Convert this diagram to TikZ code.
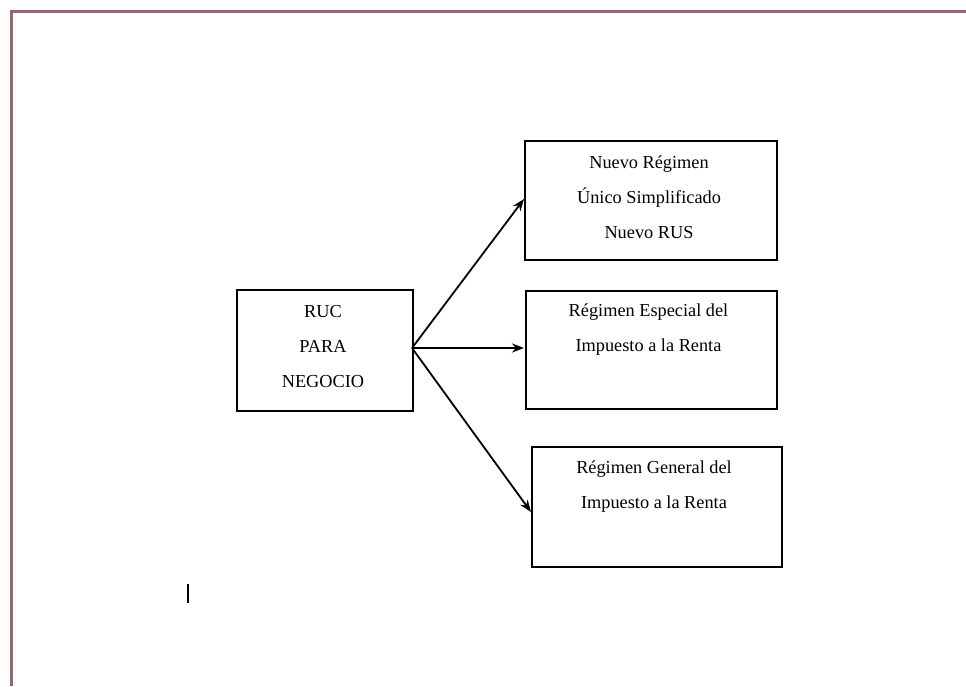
\documentclass[tikz,border=0pt]{standalone}
\usepackage{fontspec}
\setmainfont{Liberation Serif}
\usetikzlibrary{arrows.meta}
\definecolor{frame}{RGB}{146,108,108}
\begin{document}
\begin{tikzpicture}[x=1pt,y=-1pt,
  boxstyle/.style={draw=black,line width=1.8pt,inner sep=0pt,anchor=north west},
  txt/.style={align=center,inner sep=0pt,font=\fontsize{18.3}{35}\selectfont},
  conn/.style={line width=1.8pt,-{Stealth[length=12pt,width=9pt]}}]
\useasboundingbox (0,0) rectangle (966,686);
\draw[frame,line width=3.2pt] (11.5,686) -- (11.5,11.5) -- (966,11.5);
% boxes
\node[boxstyle,minimum width=176pt,minimum height=121pt] (ruc) at (236,289) {};
\node[boxstyle,minimum width=252pt,minimum height=119pt] (b1) at (524,140) {};
\node[boxstyle,minimum width=251pt,minimum height=118pt] (b2) at (525,290) {};
\node[boxstyle,minimum width=250pt,minimum height=120pt] (b3) at (531,446) {};
% texts
\node[txt] (truc) at (323,347) {RUC\\PARA\\NEGOCIO};
\node[txt] (tb1) at (649,197) {Nuevo Régimen\\Único Simplificado\\Nuevo RUS};
\node[txt] (tb2) at (648.5,330) {Régimen Especial del\\Impuesto a la Renta};
\node[txt] (tb3) at (654,487) {Régimen General del\\Impuesto a la Renta};
% connectors
\coordinate (o) at (412,348);
\coordinate (e1) at (524,199);
\coordinate (e2) at (524,348);
\coordinate (e3) at (531,512);
\draw[conn] (o) -- (e1);
\draw[conn] (o) -- (e2);
\draw[conn] (o) -- (e3);
% cursor mark
\coordinate (c1) at (188,584);
\coordinate (c2) at (188,603);
\draw[line width=1.8pt] (c1) -- (c2);
\end{tikzpicture}
\end{document}
